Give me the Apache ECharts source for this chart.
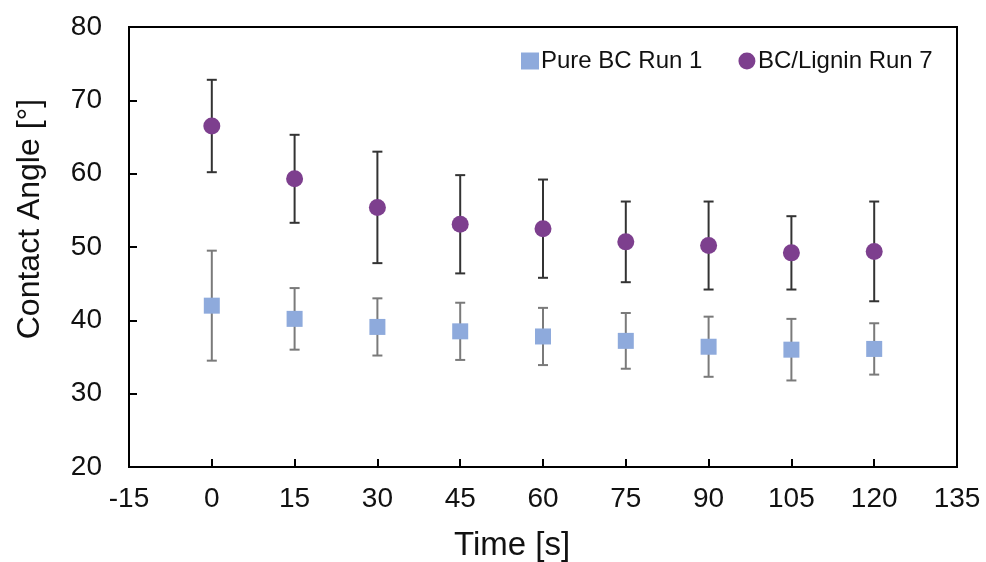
<!DOCTYPE html>
<html>
<head>
<meta charset="utf-8">
<script src="https://cdn.jsdelivr.net/npm/echarts@6/dist/echarts.min.js"></script>
<style>
  html, body { margin: 0; padding: 0; background: #fff; }
  #chart { width: 986px; height: 562px; }
</style>
</head>
<body>
<div id="chart"></div>
<script>
// values
const times = [0, 15, 30, 45, 60, 75, 90, 105, 120];
const pureMean = [42.0, 40.2, 39.1, 38.5, 37.8, 37.2, 36.4, 36.0, 36.1];
const pureErr = [7.5, 4.2, 3.9, 3.9, 3.9, 3.8, 4.1, 4.2, 3.5];
const ligninMean = [66.5, 59.3, 55.4, 53.1, 52.5, 50.7, 50.2, 49.2, 49.4];
const ligninErr = [6.3, 6.0, 7.6, 6.7, 6.7, 5.5, 6.0, 5.0, 6.8];

const fontFamily = 'Liberation Sans, Arial, sans-serif';

function errorData(mean, err) {
  return times.map((t, i) => [t, mean[i] - err[i], mean[i] + err[i]]);
}

function errorBar(color) {
  return function (params, api) {
    const lo = api.coord([api.value(0), api.value(1)]);
    const hi = api.coord([api.value(0), api.value(2)]);
    const cap = 5;
    const style = { stroke: color, lineWidth: 2 };
    return {
      type: 'group',
      children: [
        { type: 'line', shape: { x1: lo[0], y1: lo[1], x2: hi[0], y2: hi[1] }, style: style },
        { type: 'line', shape: { x1: lo[0] - cap, y1: lo[1], x2: lo[0] + cap, y2: lo[1] }, style: style },
        { type: 'line', shape: { x1: hi[0] - cap, y1: hi[1], x2: hi[0] + cap, y2: hi[1] }, style: style }
      ]
    };
  };
}

const chart = echarts.init(document.getElementById('chart'));

chart.setOption({
  animation: false,
  backgroundColor: '#fff',
  grid: {
    left: 129, right: 29, top: 27, bottom: 95,
    outerBoundsMode: 'none',
    show: true, borderColor: '#000', borderWidth: 2
  },
  legend: {
    left: 516, top: 44,
    itemWidth: 18, itemHeight: 17, itemGap: 36,
    textStyle: { fontFamily: fontFamily, fontSize: 24, color: '#111', padding: [0, 0, 0, -3] },
    data: [
      { name: 'Pure BC Run 1', icon: 'rect' },
      { name: 'BC/Lignin Run 7', icon: 'circle' }
    ]
  },
  xAxis: {
    type: 'value',
    min: -15, max: 135, interval: 15,
    name: 'Time [s]',
    nameLocation: 'middle',
    nameGap: 62,
    nameTextStyle: { fontFamily: fontFamily, fontSize: 33, color: '#111', padding: [0, 62, 0, 0] },
    axisLine: { onZero: false, lineStyle: { color: '#000', width: 2 } },
    axisTick: { inside: true, length: 8, lineStyle: { color: '#000', width: 2 } },
    axisLabel: { fontFamily: fontFamily, fontSize: 28, color: '#111', margin: 18 },
    splitLine: { show: false }
  },
  yAxis: {
    type: 'value',
    min: 20, max: 80, interval: 10,
    name: 'Contact Angle [°]',
    nameLocation: 'middle',
    nameGap: 83,
    nameRotate: 90,
    nameTextStyle: { fontFamily: fontFamily, fontSize: 32, color: '#111', padding: [0, 0, 0, 56] },
    axisLine: { onZero: false, lineStyle: { color: '#000', width: 2 } },
    axisTick: { inside: true, length: 8, lineStyle: { color: '#000', width: 2 } },
    axisLabel: { fontFamily: fontFamily, fontSize: 28, color: '#111', margin: 27 },
    splitLine: { show: false }
  },
  series: [
    {
      name: 'Pure BC err',
      type: 'custom',
      renderItem: errorBar('#7a7a7a'),
      data: errorData(pureMean, pureErr),
      encode: { x: 0, y: [1, 2] },
      z: 1,
      silent: true
    },
    {
      name: 'BC/Lignin err',
      type: 'custom',
      renderItem: errorBar('#333333'),
      data: errorData(ligninMean, ligninErr),
      encode: { x: 0, y: [1, 2] },
      z: 1,
      silent: true
    },
    {
      name: 'Pure BC Run 1',
      type: 'scatter',
      symbol: 'rect',
      symbolSize: 16,
      itemStyle: { color: '#8eaadc', opacity: 1 },
      data: times.map((t, i) => [t, pureMean[i]]),
      z: 3
    },
    {
      name: 'BC/Lignin Run 7',
      type: 'scatter',
      symbol: 'circle',
      symbolSize: 17,
      itemStyle: { color: '#7d3f8e', opacity: 1 },
      data: times.map((t, i) => [t, ligninMean[i]]),
      z: 3
    }
  ]
});
</script>
</body>
</html>
